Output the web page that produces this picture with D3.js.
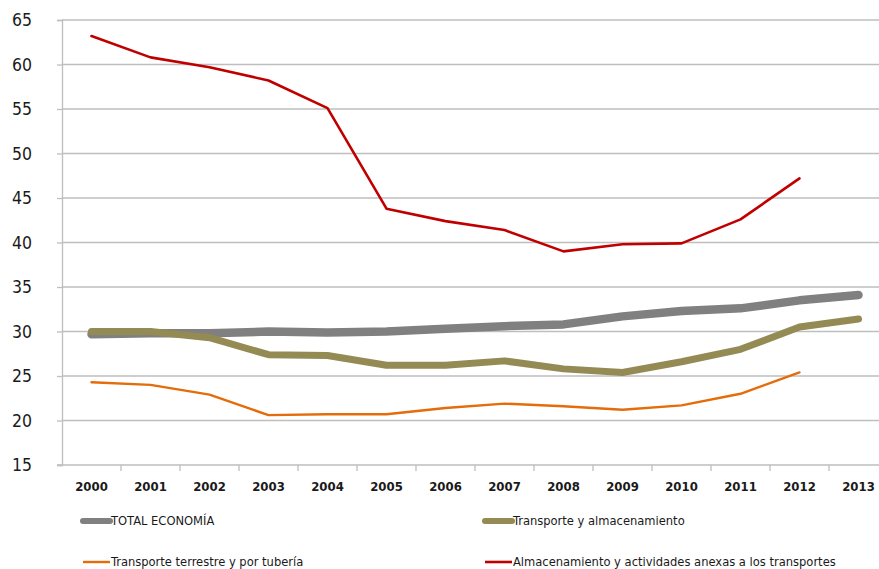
<!DOCTYPE html>
<html><head><meta charset="utf-8">
<script src="https://cdn.jsdelivr.net/npm/d3@7"></script>
<style>
body{margin:0;background:#fff;}
svg text{font-family:"DejaVu Sans Condensed","Liberation Sans Narrow","Arial Narrow",sans-serif;fill:#1a1a1a;}
</style></head>
<body><svg id="c" width="879" height="569"></svg>
<script>
const years = ["2000","2001","2002","2003","2004","2005","2006","2007","2008","2009","2010","2011","2012","2013"];
const yTicks = [15,20,25,30,35,40,45,50,55,60,65];
const totalEconomia = [29.7,29.8,29.8,30.0,29.9,30.0,30.3,30.6,30.8,31.7,32.3,32.6,33.5,34.1];
const transporteAlmacenamiento = [30.0,30.0,29.3,27.4,27.3,26.2,26.2,26.7,25.8,25.4,26.6,28.0,30.5,31.4];
const transporteTerrestre = [24.3,24.0,22.9,20.6,20.7,20.7,21.4,21.9,21.6,21.2,21.7,23.0,25.4,null];
const almacenamientoAnexas = [63.2,60.8,59.7,58.2,55.1,43.8,42.4,41.4,39.0,39.8,39.9,42.6,47.2,null];
const seriesNames = ["TOTAL ECONOMÍA","Transporte y almacenamiento","Transporte terrestre y por tubería","Almacenamiento y actividades anexas a los transportes"];

const series = [
  {name: seriesNames[0], values: totalEconomia, color: "#808080", w: 8.5},
  {name: seriesNames[1], values: transporteAlmacenamiento, color: "#948A54", w: 7},
  {name: seriesNames[2], values: transporteTerrestre, color: "#E46C0A", w: 2.4},
  {name: seriesNames[3], values: almacenamientoAnexas, color: "#C00000", w: 2.6}
];

const svg = d3.select("#c");
const mLeft = 62, mTop = 20, mBottom = 465, mRight = 888;
const x = d3.scaleBand().domain(years).range([mLeft, mRight]).padding(0);
const y = d3.scaleLinear().domain([15,65]).range([mBottom, mTop]);

// gridlines
svg.append("g").selectAll("line").data(yTicks.filter(d=>d>15)).join("line")
  .attr("x1", mLeft).attr("x2", 879).attr("y1", d=>y(d)).attr("y2", d=>y(d))
  .attr("stroke", "#BEBEBE").attr("stroke-width", 1.3);

// y axis
const yAxis = svg.append("g").attr("transform", `translate(${mLeft},0)`)
  .call(d3.axisLeft(y).tickValues(yTicks).tickSize(5).tickPadding(25).tickFormat(d3.format("d")));
yAxis.select(".domain").attr("stroke", "#BEBEBE").attr("stroke-width", 1.3);
yAxis.selectAll(".tick line").attr("stroke", "#BEBEBE").attr("stroke-width", 1.3);
yAxis.selectAll("text").attr("font-size", 17.5).attr("fill", "#1a1a1a");

// x axis
const xAxis = svg.append("g").attr("transform", `translate(0,${mBottom})`)
  .call(d3.axisBottom(x).tickSize(0).tickPadding(17));
xAxis.select(".domain").attr("stroke", "#BEBEBE").attr("stroke-width", 1.3).attr("d", `M${mLeft-5},0H${879}`);
xAxis.selectAll("text").attr("font-size", 13).attr("font-weight", "bold").attr("fill", "#1a1a1a");
svg.append("g").selectAll("line").data(years.slice(1)).join("line")
  .attr("x1", d=>x(d)).attr("x2", d=>x(d)).attr("y1", mBottom).attr("y2", mBottom+6)
  .attr("stroke", "#BEBEBE").attr("stroke-width", 1.3);

// lines
const line = d3.line().defined(d=>d.v!=null).x(d=>x(d.k)+x.bandwidth()/2).y(d=>y(d.v));
series.forEach(s=>{
  svg.append("path").datum(years.map((k,i)=>({k, v:s.values[i]})))
    .attr("d", line).attr("fill","none").attr("stroke", s.color).attr("stroke-width", s.w)
    .attr("stroke-linecap","round").attr("stroke-linejoin","round");
});

// legend
const legPos = [[83,521],[485,521],[83,562],[485,562]];
series.forEach((s,i)=>{
  const [lx,ly] = legPos[i];
  svg.append("line").attr("x1", lx).attr("x2", lx+27).attr("y1", ly).attr("y2", ly)
    .attr("stroke", s.color).attr("stroke-width", Math.min(s.w, 6)).attr("stroke-linecap", s.w>3?"round":"butt");
  svg.append("text").attr("x", lx+28).attr("y", ly).attr("dominant-baseline","middle")
    .attr("font-size", 12.8).text(s.name);
});
</script></body></html>
